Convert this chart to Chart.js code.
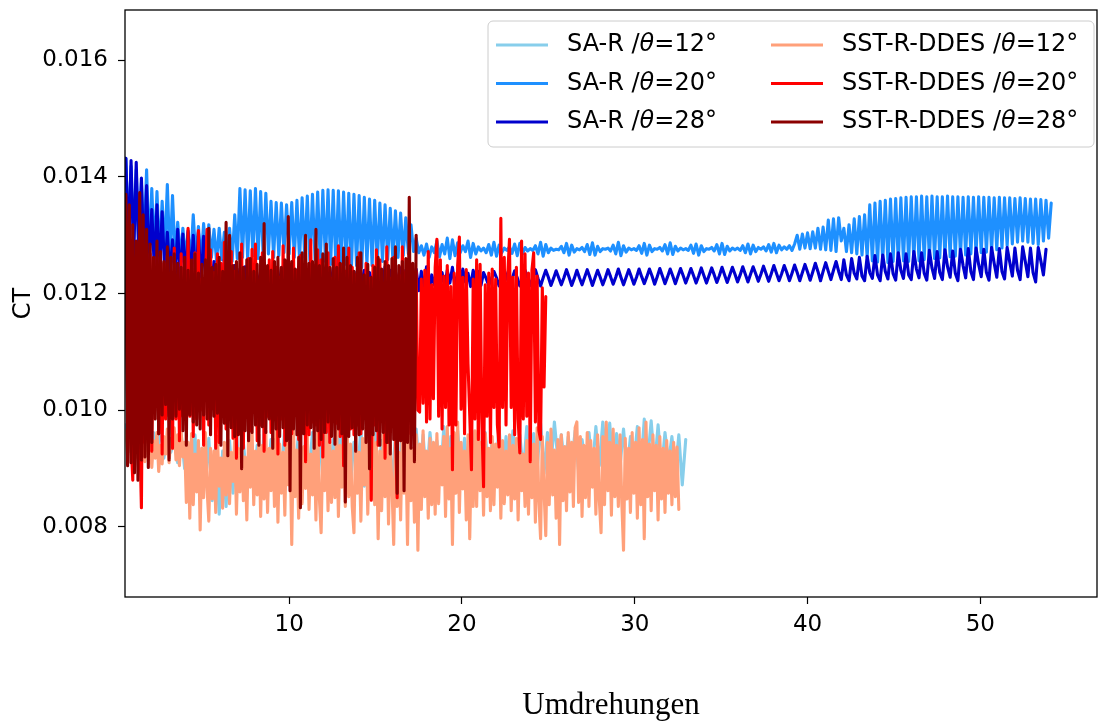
<!DOCTYPE html>
<html>
<head>
<meta charset="utf-8">
<title>CT über Umdrehungen</title>
<script src="https://cdn.jsdelivr.net/npm/chart.js@4.4.1/dist/chart.umd.min.js"></script>
<style>
  html, body { margin: 0; padding: 0; background: #fff; }
  #wrap { width: 1099px; height: 724px; }
</style>
</head>
<body>
<div id="wrap"><canvas id="ctChart" width="1099" height="724"></canvas></div>
<script>
// achsen
const xTicks = [10, 20, 30, 40, 50];
const yTicks = [0.008, 0.010, 0.012, 0.014, 0.016];

// reihen: modell, anstellwinkel, farbe
const seriesModels = ['SA-R', 'SA-R', 'SA-R', 'SST-R-DDES', 'SST-R-DDES', 'SST-R-DDES'];
const seriesAngles = ['12', '20', '28', '12', '20', '28'];
const seriesColors = ['#87CEEB', '#1E90FF', '#0000CD', '#FFA07A', '#FF0000', '#8B0000'];

// abtastung in Umdrehungen (start, schrittweite je reihe)
const startRev = 0.55;
const revStep = [0.2, 0.15, 0.15, 0.1, 0.1, 0.1];

// CT-werte
const saR12 = [
  0.00975,0.0093,0.00985,0.0094,0.00968,0.00925,0.00978,0.00935,0.00962,0.00922,
  0.0097,0.00918,0.00955,0.00928,0.00948,0.0091,0.0096,0.009,0.00945,0.0088,
  0.00958,0.00862,0.00935,0.0087,0.00952,0.00845,0.0094,0.00822,0.0093,0.00835,
  0.00948,0.00858,0.00962,0.00872,0.00945,0.0088,0.00958,0.00865,0.0094,0.00875,
  0.00965,0.00882,0.0095,0.00868,0.00962,0.0089,0.00972,0.00878,0.00955,0.00885,
  0.00968,0.0087,0.00948,0.00892,0.00962,0.00878,0.00955,0.00885,0.0097,0.00872,
  0.0095,0.0089,0.00965,0.0088,0.00958,0.00875,0.00945,0.00888,0.00968,0.0087,
  0.00952,0.00885,0.00962,0.00878,0.00948,0.00892,0.0097,0.00875,0.00955,0.00882,
  0.00965,0.00888,0.0095,0.00872,0.00968,0.0089,0.00958,0.0088,0.00962,0.00895,
  0.00948,0.00878,0.00972,0.00888,0.00955,0.00882,0.00965,0.00892,0.00952,0.00875,
  0.00968,0.00895,0.00958,0.00885,0.00962,0.00878,0.00948,0.00898,0.0097,0.00885,
  0.00955,0.0089,0.00965,0.0088,0.00958,0.00895,0.00972,0.00888,0.0096,0.009,
  0.00978,0.00892,0.00962,0.00905,0.0098,0.00915,0.00958,0.00898,0.00955,0.00908,
  0.00965,0.00895,0.0095,0.0091,0.00962,0.009,0.00972,0.00905,0.0098,0.00912,
  0.00978,0.00898,0.0096,0.00905,0.00968,0.00895,0.00955,0.00908,0.00972,0.009,
  0.00985,0.00915,0.00982,0.00905,0.00975,0.00898,0.00962,0.0091,0.00955,0.00895,
  0.00958,0.00872,0.0095
];

const saR20 = [
  0.01432,0.0129,0.01418,0.01282,0.01412,0.01275,0.0139,0.01282,0.01412,0.0127,
  0.0138,0.01265,0.01375,0.01262,0.01358,0.01268,0.01387,0.01255,0.01368,0.0126,
  0.01322,0.01258,0.01312,0.01262,0.01305,0.01255,0.01335,0.0126,0.01315,0.01252,
  0.0132,0.01258,0.01318,0.01262,0.0131,0.01255,0.01312,0.01258,0.01305,0.01262,
  0.01312,0.01255,0.01335,0.0126,0.0138,0.01262,0.01378,0.01258,0.01376,0.01265,
  0.0138,0.0126,0.01375,0.01262,0.01372,0.01268,0.01358,0.01262,0.01356,0.01265,
  0.01355,0.0127,0.01352,0.01268,0.01356,0.01262,0.0136,0.01258,0.01364,0.01262,
  0.01367,0.01255,0.0137,0.01258,0.01374,0.01252,0.01377,0.01255,0.01378,0.0125,
  0.01377,0.01248,0.01376,0.01245,0.01374,0.0125,0.01372,0.01242,0.0137,0.01248,
  0.01368,0.01245,0.01365,0.0125,0.01362,0.01248,0.0136,0.01252,0.01355,0.01255,
  0.01352,0.01258,0.01346,0.0126,0.01342,0.01262,0.01338,0.01265,0.0133,0.01268,
  0.01318,0.01272,0.01295,0.0127,0.01282,0.01266,0.01285,0.01262,0.0128,0.0127,
  0.0129,0.01263,0.01284,0.01268,0.01295,0.0126,0.01292,0.01265,0.01287,0.0127,
  0.01282,0.01272,0.0129,0.01262,0.01286,0.01268,0.0128,0.01273,0.01278,0.0127,
  0.01284,0.01266,0.01288,0.01264,0.01283,0.0127,0.01278,0.01274,0.0128,0.01269,
  0.01285,0.01265,0.01286,0.01268,0.01279,0.01273,0.01277,0.01274,0.01282,0.01268,
  0.01288,0.01264,0.01284,0.0127,0.01278,0.01274,0.01276,0.01275,0.01281,0.0127,
  0.01286,0.01266,0.01283,0.01271,0.01277,0.01275,0.01279,0.01272,0.01284,0.01267,
  0.01287,0.01266,0.01281,0.01272,0.01277,0.01276,0.01278,0.01273,0.01283,0.01268,
  0.01288,0.01265,0.01282,0.01271,0.01278,0.01275,0.01277,0.01274,0.01282,0.01269,
  0.01286,0.01266,0.01283,0.01272,0.01277,0.01276,0.01279,0.01273,0.01284,0.01268,
  0.01287,0.01267,0.01281,0.01273,0.01278,0.01275,0.01277,0.01274,0.01283,0.01269,
  0.01285,0.01266,0.01282,0.01272,0.01277,0.01276,0.01279,0.01273,0.01284,0.01268,
  0.01286,0.01267,0.01281,0.01273,0.01278,0.01275,0.01278,0.01274,0.01282,0.0127,
  0.01285,0.01268,0.01283,0.01272,0.01279,0.01276,0.0128,0.01273,0.01284,0.01271,
  0.01286,0.0127,0.01283,0.01275,0.0128,0.01276,0.01282,0.01274,0.01285,0.013,
  0.01276,0.01302,0.01278,0.01304,0.01277,0.01306,0.01278,0.01312,0.01276,0.01314,
  0.01275,0.01326,0.01274,0.01328,0.01272,0.0133,0.0129,0.01312,0.01272,0.01318,
  0.0127,0.01328,0.01268,0.01332,0.01266,0.01335,0.01262,0.01352,0.01256,0.01355,
  0.01254,0.01358,0.01255,0.0136,0.01253,0.01362,0.01255,0.01363,0.01254,0.01364,
  0.01256,0.01365,0.01255,0.01366,0.01257,0.01366,0.01256,0.01367,0.01258,0.01366,
  0.01258,0.01367,0.0126,0.01366,0.01261,0.01366,0.01262,0.01367,0.01263,0.01366,
  0.01264,0.01366,0.01265,0.01365,0.01266,0.01366,0.01268,0.01365,0.01268,0.01366,
  0.0127,0.01365,0.01271,0.01365,0.01273,0.01364,0.01275,0.01365,0.01278,0.01364,
  0.01282,0.01364,0.01285,0.01363,0.01288,0.01364,0.0129,0.01363,0.01288,0.01362,
  0.01286,0.01362,0.01284,0.01361,0.0129,0.0136,0.01295,0.01355
];

const saR28 = [
  0.01432,0.01268,0.01428,0.01262,0.01425,0.01258,0.01398,0.0125,0.01385,0.01248,
  0.01344,0.01242,0.01352,0.01238,0.0134,0.01235,0.01305,0.0123,0.01292,0.01228,
  0.0131,0.01225,0.01302,0.01222,0.01308,0.0122,0.013,0.01218,0.01305,0.01215,
  0.01298,0.01212,0.01262,0.0121,0.01255,0.01207,0.0125,0.01205,0.01258,0.0121,
  0.01245,0.01212,0.01248,0.01208,0.01242,0.0121,0.01246,0.01212,0.0124,0.01208,
  0.01244,0.01214,0.01238,0.0121,0.01245,0.01215,0.0124,0.01212,0.01236,0.0121,
  0.01242,0.01214,0.01238,0.01211,0.01246,0.01215,0.0124,0.01212,0.01244,0.01216,
  0.01238,0.01213,0.01242,0.01215,0.01236,0.01212,0.01245,0.01216,0.0124,0.01214,
  0.01243,0.01217,0.01237,0.01213,0.01241,0.01216,0.01246,0.01214,0.01238,0.01212,
  0.01244,0.01218,0.0124,0.01214,0.01236,0.01212,0.01243,0.01216,0.01239,0.01213,
  0.01246,0.01217,0.0124,0.01212,0.01238,0.01215,0.01244,0.0121,0.0124,0.01214,
  0.01245,0.01208,0.01242,0.01205,0.01238,0.0121,0.01246,0.01202,0.01232,0.01215,
  0.01244,0.01208,0.01236,0.01212,0.0124,0.01218,0.01245,0.0121,0.01236,0.01214,
  0.01242,0.0122,0.01235,0.01212,0.0124,0.01216,0.01238,0.01214,0.01236,0.01226,
  0.01214,0.01225,0.01238,0.01227,0.01213,0.01226,0.0124,0.01228,0.01214,0.01225,
  0.01239,0.01227,0.01213,0.01226,0.0124,0.01228,0.01214,0.01227,0.01241,0.01226,
  0.01213,0.01227,0.0124,0.01228,0.01214,0.01226,0.01239,0.01227,0.01215,0.01227,
  0.01241,0.01228,0.01214,0.01226,0.0124,0.01227,0.01215,0.01228,0.01241,0.01228,
  0.01214,0.01227,0.0124,0.01228,0.01215,0.01227,0.01241,0.01229,0.01216,0.01228,
  0.01242,0.01228,0.01215,0.01228,0.01241,0.01229,0.01216,0.01228,0.01242,0.01229,
  0.01217,0.01229,0.01242,0.0123,0.01216,0.01229,0.01243,0.0123,0.01217,0.01229,
  0.01242,0.0123,0.01217,0.0123,0.01243,0.01231,0.01218,0.0123,0.01243,0.01231,
  0.01218,0.0123,0.01244,0.01231,0.01218,0.01231,0.01244,0.01232,0.01219,0.01231,
  0.01245,0.01232,0.01219,0.01232,0.01245,0.01233,0.0122,0.01232,0.01246,0.01233,
  0.0122,0.01233,0.01246,0.01234,0.01221,0.01233,0.01247,0.01234,0.01221,0.01234,
  0.01248,0.01235,0.01222,0.01234,0.01248,0.01236,0.01222,0.01235,0.01249,0.01236,
  0.01222,0.01236,0.0125,0.01237,0.01223,0.01237,0.01252,0.01238,0.01222,0.01238,
  0.01253,0.01238,0.01224,0.0124,0.01255,0.01238,0.01224,0.01258,0.01232,0.01222,
  0.0126,0.01235,0.01225,0.01262,0.0123,0.01222,0.01264,0.01236,0.01226,0.01265,
  0.01232,0.01222,0.01266,0.01238,0.01225,0.01268,0.01234,0.01223,0.0127,0.0124,
  0.01226,0.01268,0.01232,0.01224,0.01272,0.01242,0.01227,0.0127,0.01235,0.01223,
  0.01274,0.01244,0.01226,0.01272,0.01236,0.01224,0.01275,0.01246,0.01228,0.01273,
  0.01235,0.01222,0.01276,0.01248,0.01227,0.01277,0.01238,0.01224,0.01278,0.0125,
  0.01229,0.01276,0.01236,0.01223,0.01279,0.01252,0.01228,0.01277,0.01238,0.01225,
  0.01279,0.01254,0.0123,0.01278,0.0124,0.01224,0.0128,0.01255,0.01229,0.01278,
  0.01236,0.0122,0.01279,0.01256,0.01232,0.01276
];

const sst12 = [
  0.00965,0.00922,0.00978,0.00935,0.0096,0.00905,0.00972,0.00918,0.00985,0.0094,0.00968,0.00912,
  0.00975,0.0093,0.00958,0.00902,0.00948,0.00918,0.00962,0.00895,0.0094,0.00908,0.00955,0.00925,
  0.00968,0.0091,0.00952,0.00935,0.0097,0.00915,0.00958,0.00905,0.00962,0.0092,0.00945,0.00842,
  0.00945,0.00815,0.0096,0.00838,0.00925,0.0086,0.00948,0.00795,0.00935,0.0085,0.00962,0.00865,
  0.0081,0.00935,0.00848,0.0093,0.00825,0.00955,0.0087,0.00918,0.00832,0.00945,0.00855,0.00968,
  0.0084,0.00928,0.00878,0.00952,0.00822,0.00935,0.0086,0.00962,0.00845,0.0092,0.00812,0.00948,
  0.00868,0.00972,0.00838,0.0093,0.00855,0.00958,0.00818,0.0094,0.00848,0.00965,0.00825,0.00935,
  0.00862,0.00952,0.00835,0.00975,0.00808,0.00942,0.00858,0.00928,0.0082,0.0096,0.00872,0.00945,
  0.0077,0.00968,0.00852,0.00932,0.00815,0.00955,0.0084,0.00938,0.00866,0.00962,0.0083,0.00925,
  0.00855,0.0095,0.00812,0.00972,0.00848,0.0079,0.00938,0.00862,0.00958,0.00828,0.00945,0.00842,
  0.0093,0.0085,0.00965,0.00818,0.0094,0.00868,0.00955,0.00835,0.00978,0.00852,0.00942,0.00835,
  0.0079,0.0096,0.00858,0.00928,0.0081,0.00952,0.00872,0.0097,0.00822,0.00935,0.00848,0.00962,
  0.00838,0.00945,0.0078,0.0093,0.00828,0.00958,0.00852,0.00975,0.00805,0.0094,0.0087,0.0077,
  0.00955,0.00835,0.00928,0.00812,0.00962,0.00858,0.00948,0.0077,0.0097,0.00845,0.00935,0.00808,
  0.00958,0.0076,0.00942,0.0083,0.00965,0.00852,0.0093,0.00815,0.00952,0.00838,0.00945,0.00822,
  0.0096,0.0084,0.00938,0.00872,0.00955,0.00818,0.00972,0.00848,0.00935,0.0077,0.00962,0.00858,
  0.0098,0.00825,0.00945,0.00865,0.0093,0.00812,0.00958,0.0078,0.0094,0.00835,0.00965,0.00835,
  0.00982,0.00862,0.00945,0.0082,0.0096,0.00852,0.00935,0.00828,0.00955,0.00838,0.00942,0.00868,
  0.00972,0.00815,0.00948,0.0084,0.0093,0.00855,0.00958,0.00828,0.0094,0.00848,0.00952,0.00812,
  0.00935,0.00862,0.00925,0.00835,0.00948,0.00822,0.0096,0.0085,0.00942,0.00808,0.0097,0.00845,
  0.0078,0.00955,0.00862,0.00785,0.00945,0.00838,0.00968,0.00855,0.00932,0.00815,0.0095,0.0077,
  0.00958,0.00845,0.00938,0.00828,0.00962,0.0086,0.00945,0.00835,0.0097,0.0098,0.00842,0.00955,
  0.00818,0.0094,0.0085,0.00962,0.00835,0.00948,0.00868,0.00935,0.00822,0.00958,0.00845,0.0079,
  0.00955,0.00838,0.0098,0.00862,0.00945,0.0082,0.00968,0.00852,0.0094,0.00835,0.00958,0.00842,
  0.0076,0.00952,0.00848,0.00935,0.00825,0.00962,0.00858,0.00945,0.00815,0.0097,0.00838,0.0095,
  0.0078,0.0098,0.00852,0.00942,0.00828,0.00958,0.00862,0.0094,0.00812,0.00955,0.00848,0.00935,
  0.00825,0.00948,0.00858,0.0093,0.00838,0.00945,0.00852,0.00937,0.0083
];

const sst20 = [
  0.0123,0.0101,0.0132,0.0095,0.0088,0.01215,0.00935,0.0119,0.00965,0.00833,0.0124,0.00945,
  0.01245,0.00985,0.01268,0.0093,0.01195,0.01012,0.01262,0.0096,0.0121,0.00925,0.01252,0.00985,
  0.01265,0.0099,0.01235,0.00935,0.01278,0.00985,0.01222,0.00948,0.01268,0.0099,0.0123,0.00975,
  0.01312,0.0099,0.0124,0.00955,0.0127,0.00985,0.01308,0.01,0.01225,0.0094,0.01215,0.0131,
  0.00975,0.01275,0.01008,0.01236,0.00935,0.01268,0.00945,0.01252,0.0099,0.01288,0.00968,0.01242,
  0.01005,0.01272,0.00952,0.01238,0.00918,0.0122,0.0096,0.01285,0.00935,0.01212,0.0099,0.0126,
  0.00965,0.01276,0.01,0.01285,0.00948,0.01215,0.00975,0.0127,0.0093,0.0122,0.0099,0.01258,
  0.00962,0.01272,0.01005,0.01245,0.00925,0.01228,0.00985,0.01282,0.0094,0.0121,0.00975,0.0125,
  0.0096,0.01278,0.00995,0.0124,0.0095,0.01265,0.00968,0.01218,0.00912,0.01236,0.00958,0.01292,
  0.0098,0.01248,0.00975,0.01275,0.0094,0.01258,0.0092,0.01215,0.00962,0.0127,0.00945,0.01226,
  0.00985,0.01262,0.00978,0.01282,0.00955,0.0125,0.00905,0.01238,0.01,0.01278,0.00968,0.01245,
  0.00958,0.01232,0.00975,0.0127,0.0096,0.01218,0.0099,0.01252,0.00965,0.01226,0.00846,0.01248,
  0.00975,0.01275,0.0094,0.01258,0.0099,0.01215,0.00918,0.0128,0.00945,0.01226,0.00985,0.01262,
  0.00978,0.0085,0.01232,0.00955,0.0128,0.00985,0.01238,0.00975,0.0127,0.0096,0.01232,0.00995,
  0.01238,0.01,0.00997,0.01225,0.01012,0.0124,0.0098,0.01272,0.00985,0.01215,0.0102,0.01245,
  0.01293,0.0099,0.01258,0.00968,0.0123,0.01005,0.01248,0.00975,0.01212,0.00898,0.01235,0.00975,
  0.01248,0.01297,0.01002,0.01228,0.0096,0.01241,0.0108,0.00992,0.00898,0.01225,0.00985,0.01258,
  0.0095,0.0125,0.00985,0.00869,0.01215,0.0099,0.01235,0.00945,0.01242,0.01005,0.01225,0.00975,
  0.00937,0.01329,0.01005,0.01262,0.00975,0.01232,0.01293,0.01005,0.01228,0.00958,0.01245,0.00985,
  0.00927,0.0129,0.00985,0.01268,0.0099,0.01235,0.00912,0.0124,0.0127,0.0098,0.0123,0.00965,
  0.0095,0.0121,0.0104,0.01195
];

const sst28 = [
  0.0137,0.00905,0.01352,0.0091,0.01318,0.00893,0.0129,0.0088,0.01373,0.00915,0.01335,0.0092,
  0.0131,0.00902,0.01285,0.00945,0.01262,0.00985,0.0129,0.0096,0.01272,0.00992,0.01255,0.0101,
  0.0128,0.00915,0.01262,0.00985,0.01268,0.0099,0.01252,0.01002,0.01245,0.00965,0.01262,0.0094,
  0.0124,0.00992,0.01258,0.0098,0.01268,0.00975,0.01235,0.00968,0.0125,0.00992,0.01258,0.00985,
  0.01312,0.00958,0.01245,0.0099,0.0125,0.00995,0.01262,0.0094,0.01238,0.00978,0.01322,0.00922,
  0.013,0.0097,0.01248,0.00955,0.01255,0.00958,0.0127,0.009,0.01245,0.00965,0.01258,0.00948,
  0.0126,0.00962,0.01238,0.00975,0.0125,0.0094,0.01262,0.00972,0.0132,0.00962,0.01248,0.00985,
  0.0124,0.00935,0.01255,0.00968,0.01262,0.00955,0.01245,0.0097,0.01258,0.00948,0.01332,0.00862,
  0.01255,0.00968,0.01242,0.00958,0.01262,0.00833,0.0127,0.0096,0.013,0.00975,0.01252,0.0097,
  0.01255,0.00935,0.0131,0.00965,0.01248,0.0095,0.01268,0.00962,0.01285,0.0098,0.01245,0.00955,
  0.0126,0.00942,0.01245,0.00968,0.01252,0.0096,0.01278,0.00843,0.01262,0.00955,0.01248,0.0097,
  0.01238,0.0093,0.01262,0.00958,0.0127,0.00968,0.01232,0.00945,0.0125,0.009,0.01228,0.00958,
  0.01245,0.00965,0.01262,0.0094,0.01242,0.00962,0.01255,0.00945,0.01248,0.00925,0.0126,0.0095,
  0.0128,0.00858,0.01248,0.00948,0.01255,0.00862,0.0126,0.00945,0.01365,0.00935,0.01252,0.00912,
  0.013
];

const seriesValues = [saR12, saR20, saR28, sst12, sst20, sst28];

const datasets = seriesValues.map((vals, k) => ({
  label: `${seriesModels[k]} /θ=${seriesAngles[k]}°`,
  data: vals.map((v, i) => ({ x: startRev + i * revStep[k], y: v })),
  borderColor: seriesColors[k],
  backgroundColor: seriesColors[k],
  borderWidth: 3.1,
  borderJoinStyle: 'round',
  borderCapStyle: 'round',
  pointRadius: 0,
  tension: 0,
  // letzte reihe oben zeichnen, wie im original
  order: seriesValues.length - 1 - k
}));

// rahmen um den plot und legende in zwei spalten
const frameLegend = {
  id: 'frameLegend',
  afterDraw(chart) {
    const { ctx, chartArea: a } = chart;
    ctx.save();
    ctx.strokeStyle = '#000';
    ctx.lineWidth = 1.3;
    ctx.strokeRect(a.left, a.top, a.right - a.left, a.bottom - a.top);

    const bx = a.right - 609, by = a.top + 11, bw = 606, bh = 126;
    ctx.beginPath();
    if (ctx.roundRect) ctx.roundRect(bx, by, bw, bh, 5); else ctx.rect(bx, by, bw, bh);
    ctx.fillStyle = 'rgba(255,255,255,0.8)';
    ctx.fill();
    ctx.strokeStyle = '#cccccc';
    ctx.lineWidth = 1;
    ctx.stroke();

    const fontN = '24px "DejaVu Sans"';
    const fontI = 'italic 24px "DejaVu Sans"';
    ctx.textBaseline = 'middle';
    ctx.textAlign = 'left';
    chart.data.datasets.forEach((ds, k) => {
      const col = k < 3 ? 0 : 1;
      const row = k % 3;
      const y = by + 24 + row * 38.5;
      const lx = bx + 8 + col * 275;
      ctx.strokeStyle = ds.borderColor;
      ctx.lineWidth = 2.8;
      ctx.beginPath();
      ctx.moveTo(lx, y);
      ctx.lineTo(lx + 52, y);
      ctx.stroke();

      let tx = lx + 71;
      ctx.fillStyle = '#000';
      ctx.font = fontN;
      const pre = seriesModels[k] + ' /';
      ctx.fillText(pre, tx, y);
      tx += ctx.measureText(pre).width;
      ctx.font = fontI;
      ctx.fillText('θ', tx, y);
      tx += ctx.measureText('θ').width;
      ctx.font = fontN;
      ctx.fillText('=' + seriesAngles[k] + '°', tx, y);
    });
    ctx.restore();
  }
};

const tickFont = { family: 'DejaVu Sans', size: 23 };

new Chart(document.getElementById('ctChart'), {
  type: 'line',
  data: { datasets: datasets },
  options: {
    responsive: false,
    animation: false,
    events: [],
    parsing: false,
    normalized: true,
    layout: { padding: { top: 10, right: 2, left: 0, bottom: 0 } },
    plugins: { legend: { display: false }, tooltip: { enabled: false } },
    scales: {
      x: {
        type: 'linear',
        min: 0.5,
        max: 56.75,
        afterBuildTicks: s => { s.ticks = xTicks.map(v => ({ value: v })); },
        afterFit: s => { s.height = 127; s.paddingLeft = 0; s.paddingRight = 0; },
        grid: { drawOnChartArea: false, tickLength: 7, tickColor: '#000', tickWidth: 1.2 },
        border: { display: false },
        ticks: { font: tickFont, color: '#000', padding: 7, maxRotation: 0, autoSkip: false,
                 callback: v => String(v) },
        title: { display: true, text: 'Umdrehungen', color: '#000',
                 font: { family: 'Liberation Serif', size: 31 }, padding: 0 }
      },
      y: {
        type: 'linear',
        min: 0.0068,
        max: 0.01686,
        afterBuildTicks: s => { s.ticks = yTicks.map(v => ({ value: v })); },
        afterFit: s => { s.width = 125; s.paddingTop = 0; s.paddingBottom = 0; },
        grid: { drawOnChartArea: false, tickLength: 7, tickColor: '#000', tickWidth: 1.2 },
        border: { display: false },
        ticks: { font: tickFont, color: '#000', padding: 10, autoSkip: false,
                 callback: v => v.toFixed(3) },
        title: { display: true, text: 'CT', color: '#000',
                 font: { family: 'DejaVu Sans', size: 24 }, padding: { top: 9, bottom: 0 } }
      }
    }
  },
  plugins: [frameLegend]
});
</script>
</body>
</html>
